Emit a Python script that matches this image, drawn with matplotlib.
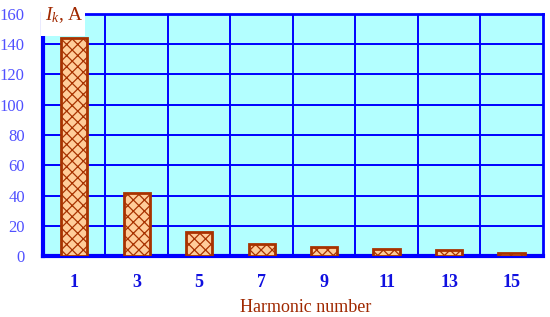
import matplotlib.pyplot as plt
from matplotlib.patches import Rectangle

# harmonic spectrum of the current
harmonics = ["1", "3", "5", "7", "9", "11", "13", "15"]
current = [144, 42, 16, 8, 6, 5, 4, 2]
yticks = [0, 20, 40, 60, 80, 100, 120, 140, 160]

plt.rcParams["font.family"] = "Liberation Serif"
plt.rcParams["mathtext.fontset"] = "custom"
plt.rcParams["mathtext.it"] = "Liberation Serif:italic"
plt.rcParams["mathtext.rm"] = "Liberation Serif"
plt.rcParams["hatch.linewidth"] = 0.9
plt.rcParams["hatch.color"] = "#a83200"

fig = plt.figure(figsize=(5.5, 3.17), dpi=100)
ax = fig.add_axes([0.078, 0.192, 0.909, 0.764])
ax.set_facecolor("#b3ffff")

x = list(range(len(harmonics)))
ax.bar(x, current, width=0.42, color="#ffcc99", edgecolor="#a83200",
       linewidth=2, hatch="xxx", zorder=3)

ax.set_xlim(-0.5, len(harmonics) - 0.5)
ax.set_ylim(0, 160)
ax.set_yticks(yticks)
ax.set_xticks(x)
ax.set_xticklabels(harmonics, fontweight="bold", color="#1010e0", fontsize=13)
ax.set_xticks([i + 0.5 for i in x[:-1]], minor=True)
ax.tick_params(axis="x", which="both", length=0, pad=13)
ax.tick_params(axis="y", length=0, pad=13, labelcolor="#5050ff", labelsize=12)

ax.grid(True, which="major", axis="y", color="#0000ff", linewidth=1.4, zorder=1)
ax.grid(True, which="minor", axis="x", color="#0000ff", linewidth=1.4, zorder=1)
ax.set_axisbelow(True)

for side in ["left", "bottom"]:
    ax.spines[side].set_color("#0000ff")
    ax.spines[side].set_linewidth(3)
for side in ["top", "right"]:
    ax.spines[side].set_color("#0000ff")
    ax.spines[side].set_linewidth(2)

ax.set_xlabel("Harmonic number", color="#a02800", fontsize=13)
ax.xaxis.set_label_coords(0.525, -0.178)

# white box behind the unit label in the top-left corner
fig.patches.append(Rectangle((0.075, 0.885), 0.08, 0.12, transform=fig.transFigure,
                             facecolor="white", edgecolor="none", zorder=5))
fig.text(0.082, 0.952, r"$I_k$, A", color="#a02800", fontsize=14,
         va="center", ha="left", zorder=6)

fig.savefig("out.png", dpi=100)
